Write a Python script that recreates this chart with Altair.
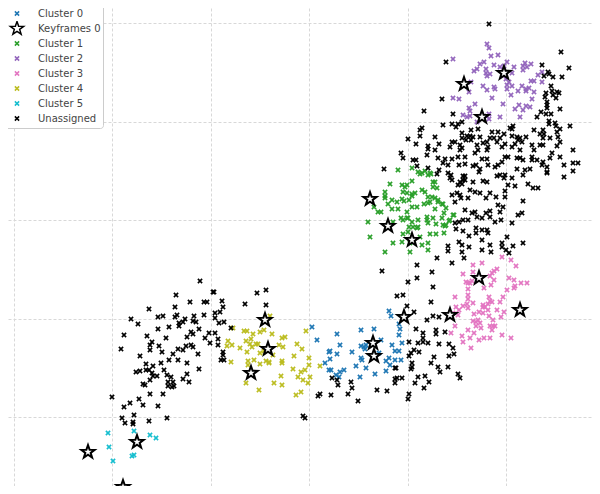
import altair as alt
import pandas as pd

cluster_0 = [(312,327),(317,340),(337,334),(361,330),(374,329),(389,311),(391,316),(399,324),(400,329),(399,335),(402,343),(381,340),(392,345),(340,345),(361,346),(364,347),(366,345),(365,349),(329,352),(330,351),(337,354),(352,352),(379,353),(395,351),(399,351),(330,359),(361,358),(362,360),(389,358),(386,361),(395,360),(390,365),(401,360),(325,363),(356,366),(366,368),(386,371),(329,370),(331,370),(344,370),(340,372),(336,375),(339,377),(360,377),(375,374)]
cluster_1 = [(398,170),(412,181),(390,184),(418,172),(422,173),(428,175),(430,173),(433,182),(437,188),(402,185),(407,185),(403,192),(407,193),(385,192),(385,196),(385,198),(388,204),(392,200),(397,202),(402,199),(404,201),(409,200),(412,194),(415,193),(412,196),(422,190),(425,192),(428,197),(430,202),(435,198),(438,200),(428,203),(424,204),(417,207),(412,207),(398,209),(392,209),(378,212),(381,212),(374,207),(407,212),(401,218),(403,220),(407,218),(408,218),(412,222),(418,220),(427,220),(428,223),(413,227),(418,227),(409,227),(427,217),(433,218),(436,224),(442,218),(444,213),(446,208),(442,204),(450,220),(454,215),(445,226),(443,225),(430,234),(436,234),(444,233),(368,222),(370,237),(393,243),(385,252),(403,234),(410,243),(410,252),(420,237),(422,245),(428,243),(428,250),(417,228),(408,232),(402,242),(393,222),(412,168),(420,174),(425,171),(431,174),(435,182),(405,187),(433,187),(432,197),(438,202),(443,204),(435,209),(453,215),(449,221),(446,225)]
cluster_2 = [(453,59),(487,44),(489,48),(491,56),(498,55),(484,62),(480,64),(477,69),(474,71),(486,69),(486,73),(490,74),(487,76),(494,65),(500,67),(507,62),(504,66),(514,67),(512,73),(523,66),(525,63),(531,64),(527,67),(523,70),(542,72),(538,75),(542,82),(534,81),(531,81),(471,82),(469,92),(483,86),(487,90),(494,87),(495,89),(506,79),(509,82),(512,86),(507,85),(507,89),(518,91),(522,86),(526,89),(529,88),(526,91),(534,92),(511,95),(492,98),(453,98),(459,99),(475,104),(469,108),(470,111),(463,115),(467,117),(470,116),(503,104),(515,109),(523,110),(526,106),(519,105),(530,107),(532,99),(520,117),(500,117),(489,114),(489,119),(477,122),(487,116)]
cluster_3 = [(502,257),(511,260),(482,263),(473,265),(516,266),(473,272),(497,269),(494,271),(492,273),(490,276),(463,274),(494,280),(466,282),(472,281),(468,283),(470,283),(468,289),(491,285),(484,288),(509,278),(514,280),(515,286),(514,288),(521,283),(527,283),(507,290),(468,295),(468,299),(455,297),(473,303),(467,304),(463,306),(456,307),(459,310),(468,308),(483,305),(485,307),(489,297),(490,301),(488,304),(492,302),(500,302),(503,297),(483,307),(488,310),(497,310),(504,312),(479,312),(483,313),(474,314),(489,316),(493,320),(501,317),(473,321),(476,322),(478,320),(480,323),(476,326),(481,328),(490,326),(493,326),(495,326),(492,330),(468,330),(474,333),(502,335),(511,338),(451,333),(455,326),(462,336),(470,338),(479,340),(484,338),(490,338),(463,342),(471,348),(453,313),(458,315)]
cluster_4 = [(270,316),(233,328),(244,331),(247,331),(253,334),(260,332),(264,330),(272,334),(285,337),(282,338),(306,331),(228,341),(227,346),(232,345),(240,348),(246,341),(251,339),(250,344),(252,347),(256,344),(258,344),(247,352),(260,353),(264,351),(279,345),(283,347),(297,344),(302,349),(273,355),(231,362),(248,361),(248,365),(254,360),(260,364),(266,361),(269,363),(269,362),(282,361),(282,363),(294,356),(309,358),(309,365),(305,370),(301,372),(293,369),(281,376),(298,377),(303,380),(310,377),(308,383),(246,383),(274,383),(282,385),(259,390),(301,392),(296,395),(320,366)]
cluster_5 = [(108,433),(134,431),(150,435),(156,438),(109,447),(113,461),(132,456),(134,455)]
keyframes_0 = [(88,452),(137,442),(123,487),(251,373),(268,349),(265,320),(374,356),(373,343),(404,317),(450,315),(479,278),(520,310),(412,240),(388,226),(370,199),(482,117),(464,84),(504,73)]
unassigned = [(489,24),(446,62),(561,52),(569,68),(542,65),(548,72),(544,76),(549,74),(553,77),(562,77),(551,86),(552,91),(557,92),(559,93),(546,93),(545,97),(553,95),(556,98),(547,102),(547,105),(547,108),(560,109),(442,99),(424,111),(453,114),(541,112),(546,114),(551,114),(537,117),(549,121),(549,124),(555,123),(556,126),(560,129),(570,126),(462,122),(458,124),(443,125),(452,124),(456,127),(422,128),(420,130),(420,136),(408,139),(416,144),(435,137),(439,144),(428,146),(428,149),(427,155),(435,150),(450,147),(452,142),(455,142),(462,133),(462,138),(471,130),(478,129),(492,132),(498,132),(504,134),(510,128),(513,126),(512,129),(512,136),(534,130),(543,130),(540,134),(544,134),(543,138),(557,132),(558,137),(560,142),(557,146),(550,138),(467,136),(470,136),(473,137),(471,140),(480,137),(466,140),(460,145),(462,148),(460,150),(477,145),(478,150),(475,153),(483,143),(487,142),(490,138),(494,138),(500,138),(497,142),(488,147),(487,150),(502,147),(505,144),(515,144),(512,147),(517,137),(520,138),(526,137),(518,140),(522,142),(520,150),(532,145),(534,150),(540,145),(543,145),(552,153),(550,158),(560,157),(573,150),(564,165),(573,163),(578,163),(573,171),(564,177),(547,167),(547,173),(542,165),(543,162),(537,160),(532,157),(532,160),(523,160),(520,158),(517,158),(508,157),(505,157),(502,162),(498,165),(495,167),(488,165),(487,159),(482,159),(476,165),(473,166),(465,164),(465,157),(458,157),(459,165),(452,159),(445,159),(438,158),(443,163),(448,165),(416,160),(413,160),(417,166),(403,158),(401,153),(384,169),(428,168),(439,170),(437,174),(448,173),(451,175),(463,176),(465,176),(480,169),(479,172),(500,175),(505,175),(517,169),(523,175),(525,170),(530,169),(547,172),(450,178),(452,180),(463,180),(465,180),(460,182),(462,184),(458,185),(473,182),(483,181),(487,182),(497,176),(504,178),(512,178),(508,185),(515,186),(528,184),(533,188),(538,188),(505,191),(505,197),(496,197),(490,193),(486,198),(480,193),(475,192),(470,190),(468,198),(457,193),(460,195),(452,195),(455,202),(461,198),(465,210),(475,212),(486,213),(490,211),(500,212),(503,207),(498,205),(523,201),(522,213),(518,215),(512,223),(501,220),(495,222),(490,217),(482,218),(477,217),(472,213),(468,220),(463,220),(459,222),(455,223),(456,229),(463,231),(476,228),(476,233),(469,236),(482,240),(482,230),(487,230),(488,233),(507,237),(523,243),(459,242),(462,245),(448,246),(448,251),(462,252),(469,247),(482,250),(490,245),(491,252),(502,243),(502,247),(506,250),(509,253),(513,246),(464,258),(452,263),(437,258),(417,265),(382,271),(432,272),(417,278),(408,282),(433,287),(397,296),(403,295),(431,302),(407,306),(414,312),(433,316),(439,317),(427,320),(416,329),(423,333),(436,330),(436,334),(445,332),(423,338),(423,342),(418,343),(409,342),(428,343),(439,344),(449,344),(453,348),(454,354),(449,356),(414,350),(411,353),(419,352),(409,356),(434,357),(412,363),(412,367),(411,369),(431,363),(438,367),(448,367),(440,372),(458,374),(460,378),(397,378),(402,378),(395,383),(418,377),(425,376),(415,383),(429,382),(424,388),(409,394),(408,399),(396,368),(213,292),(257,293),(266,290),(245,304),(266,305),(222,301),(223,307),(215,313),(215,318),(220,312),(219,323),(224,322),(231,328),(209,333),(215,333),(218,339),(210,343),(218,345),(223,352),(223,355),(221,360),(224,360),(303,416),(305,418),(318,396),(320,394),(331,395),(332,378),(337,380),(338,385),(351,382),(352,388),(348,394),(358,401),(377,390),(387,391),(395,379),(395,368),(200,281),(176,295),(190,302),(204,302),(207,302),(175,307),(149,309),(163,316),(158,317),(177,315),(175,317),(185,319),(183,322),(179,323),(179,326),(194,316),(204,315),(193,321),(196,322),(199,329),(131,319),(138,324),(169,327),(158,329),(191,332),(193,334),(124,335),(147,336),(166,338),(187,337),(205,338),(152,342),(150,345),(159,346),(191,345),(193,347),(186,346),(150,350),(162,352),(178,349),(183,350),(173,354),(198,354),(121,349),(140,356),(169,360),(178,360),(161,363),(187,363),(146,364),(153,366),(164,370),(146,370),(149,370),(140,371),(136,372),(199,369),(152,373),(153,376),(157,376),(167,375),(171,377),(187,374),(183,379),(150,380),(168,382),(173,382),(189,382),(168,386),(174,386),(172,387),(143,384),(145,385),(150,394),(163,394),(112,397),(139,399),(130,403),(143,405),(124,407),(158,406),(134,415),(122,418),(167,418),(133,422),(133,424),(125,423),(149,421),(214,292)]

series_names = ["Cluster 0","Keyframes 0","Cluster 1","Cluster 2","Cluster 3","Cluster 4","Cluster 5","Unassigned"]
series_colors = ["#1f77b4","#000000","#2ca02c","#9467bd","#e377c2","#bcbd22","#17becf","#000000"]
grid_x = [13.5,112,210.5,309,407.5,506]
grid_y = [22.5,121.5,220,318.5,417]

X_PATH = "M-1,-1L1,1M-1,1L1,-1"
STAR_PATH = "M0,-1L0.235,-0.324L0.951,-0.309L0.38,0.124L0.588,0.809L0,0.4L-0.588,0.809L-0.38,0.124L-0.951,-0.309L-0.235,-0.324Z"
series_shapes = [X_PATH,STAR_PATH,X_PATH,X_PATH,X_PATH,X_PATH,X_PATH,X_PATH]
series_sizes = [18,195,18,18,18,18,18,18]

rows = []
for name, pts in [("Cluster 0",cluster_0),("Cluster 1",cluster_1),("Cluster 2",cluster_2),("Cluster 3",cluster_3),("Cluster 4",cluster_4),("Cluster 5",cluster_5),("Unassigned",unassigned)]:
    for x, y in pts:
        rows.append({"x":x,"y":y,"series":name})
df = pd.DataFrame(rows)
df_star = pd.DataFrame(keyframes_0, columns=["x","y"])

legend = alt.Legend(title=None, orient="top-left", offset=-4, fillColor="#ffffff", strokeColor="#cccccc",
                    cornerRadius=3, padding=2, labelFont="DejaVu Sans", labelFontSize=10, labelColor="#444444",
                    clipHeight=15, rowPadding=0, labelOffset=13, symbolOffset=3)
sc = lambda r, **k: alt.Scale(domain=series_names, range=r, **k)
axis_kw = dict(labels=False, ticks=False, domain=False, title=None, grid=True, gridColor="#d8d8d8", gridDash=[3,2], gridWidth=1)

x_enc = alt.X("x:Q", scale=alt.Scale(domain=[8,592], nice=False, zero=False), axis=alt.Axis(values=grid_x, **axis_kw))
y_enc = alt.Y("y:Q", scale=alt.Scale(domain=[486,8], nice=False, zero=False), axis=alt.Axis(values=grid_y, **axis_kw))

points = alt.Chart(df).mark_point(filled=False, strokeWidth=1.6, opacity=1).encode(
    x=x_enc, y=y_enc,
    color=alt.Color("series:N", scale=sc(series_colors), legend=legend),
    shape=alt.Shape("series:N", scale=sc(series_shapes), legend=legend),
    size=alt.Size("series:N", scale=sc(series_sizes, type="ordinal"), legend=legend),
)
stars = alt.Chart(df_star).mark_point(shape=STAR_PATH, size=195, filled=True, fill="#ffffff", stroke="#000000", strokeWidth=2, opacity=1).encode(x="x:Q", y="y:Q")
chart = alt.layer(points, stars).properties(width=584, height=478, padding=0, autosize="none").configure_view(stroke=None)
chart.save("out.html", embed_options={"renderer": "svg", "actions": False})
